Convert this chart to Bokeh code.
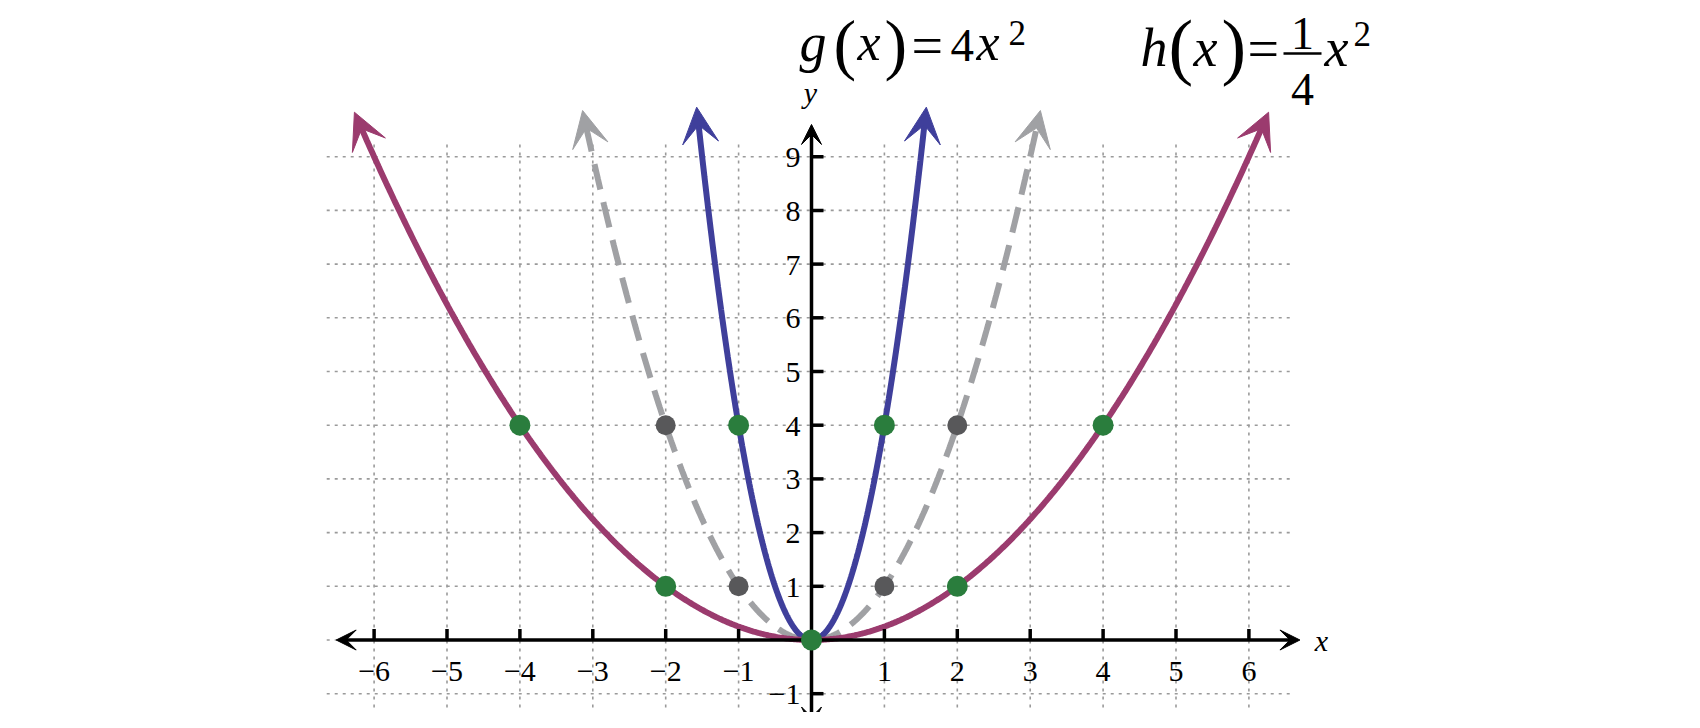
import numpy as np
from bokeh.plotting import figure
from bokeh.models import Range1d, Arrow, VeeHead
from bokeh.embed import file_html
from bokeh.resources import INLINE
from bokeh.core.properties import value

# ---------------- data ----------------
x_ticks = [-6, -5, -4, -3, -2, -1, 1, 2, 3, 4, 5, 6]
x_tick_labels = ["−6", "−5", "−4", "−3", "−2", "−1", "1", "2", "3", "4", "5", "6"]
y_ticks = [-1, 1, 2, 3, 4, 5, 6, 7, 8, 9]
y_tick_labels = ["−1", "1", "2", "3", "4", "5", "6", "7", "8", "9"]
grid_x = [-6, -5, -4, -3, -2, -1, 0, 1, 2, 3, 4, 5, 6]
grid_y = [-1, 0, 1, 2, 3, 4, 5, 6, 7, 8, 9]

green_x = [-4, -2, 0, 2, 4, -1, 1]
green_y = [4, 1, 0, 1, 4, 4, 4]
gray_x = [-2, -1, 1, 2]
gray_y = [4, 1, 1, 4]

# coefficient of each parabola a*x^2 and the x where its arrow tip sits
coef_f, tip_f = 1.0, 3.14      # f(x) = x^2 (dashed gray)
coef_g, tip_g = 4.0, 1.575     # g(x) = 4x^2 (blue)
coef_h, tip_h = 0.25, 6.27     # h(x) = 1/4 x^2 (purple)

# ---------------- layout ----------------
W, H = 1684, 712
X0, Y0 = 811.0, 639.5     # origin position inside the canvas (px from left / top)
UX, UY = 72.9, 53.7       # pixels per unit

PURPLE = "#9b3b6e"
BLUE = "#3f3f9b"
GRAYD = "#a0a1a4"
GREEN = "#2a7d3d"
DARKPT = "#58585a"
GRID = "#9a9a9a"
FONT = "Liberation Serif"

p = figure(width=W, height=H,
           x_range=Range1d(-X0 / UX, (W - X0) / UX),
           y_range=Range1d(-(H - Y0) / UY, Y0 / UY),
           x_axis_type=None, y_axis_type=None,
           output_backend="svg", toolbar_location=None, min_border=0)
p.outline_line_color = None
p.grid.visible = False
p.background_fill_color = "white"


def fx(px):
    return (px - X0) / UX


def fy(py):
    return (Y0 - py) / UY


# grid
p.segment(x0=grid_x, y0=[-2.0] * len(grid_x), x1=grid_x, y1=[9.3] * len(grid_x),
          line_color=GRID, line_width=1.6, line_dash="3 5")
p.segment(x0=[-6.65] * len(grid_y), y0=grid_y, x1=[6.6] * len(grid_y), y1=grid_y,
          line_color=GRID, line_width=1.6, line_dash="3 5")


def curve(coef, tip, color, dash=None):
    # stop the body a little before the tip so the head covers its end
    slope_px = np.hypot(UX, 2 * coef * tip * UY)
    end = tip - 16.0 / slope_px
    xs = np.linspace(-end, end, 600)
    kw = dict(line_color=color, line_width=6, line_cap="butt")
    if dash:
        kw["line_dash"] = dash
    p.line(xs, coef * xs ** 2, **kw)
    back = tip - 30.0 / slope_px
    for s in (-1, 1):
        p.add_layout(Arrow(end=VeeHead(size=36, fill_color=color, line_color=color, line_width=1),
                           x_start=s * back, y_start=coef * back ** 2,
                           x_end=s * tip, y_end=coef * tip ** 2,
                           line_alpha=0))


curve(coef_f, tip_f, GRAYD, dash="26 13")
curve(coef_g, tip_g, BLUE)
curve(coef_h, tip_h, PURPLE)

# axes
ax_x0, ax_x1 = -6.52, 6.7
ax_y0, ax_y1 = -1.62, 9.6
p.line([ax_x0 + 0.1, ax_x1 - 0.1], [0, 0], line_color="black", line_width=3.5)
p.line([0, 0], [ax_y0 + 0.1, ax_y1 - 0.1], line_color="black", line_width=3.5)
p.add_layout(Arrow(start=VeeHead(size=20, fill_color="black", line_color="black"),
                   end=VeeHead(size=20, fill_color="black", line_color="black"),
                   x_start=ax_x0, y_start=0, x_end=ax_x1, y_end=0, line_alpha=0))
p.add_layout(Arrow(start=VeeHead(size=20, fill_color="black", line_color="black"),
                   end=VeeHead(size=20, fill_color="black", line_color="black"),
                   x_start=0, y_start=ax_y0, x_end=0, y_end=ax_y1, line_alpha=0))

# tick marks
p.segment(x0=x_ticks, y0=[0] * len(x_ticks), x1=x_ticks, y1=[11.0 / UY] * len(x_ticks),
          line_color="black", line_width=3.5)
p.segment(x0=[0] * len(y_ticks), y0=y_ticks, x1=[12.0 / UX] * len(y_ticks), y1=y_ticks,
          line_color="black", line_width=3.5)

# tick labels
p.text(x=x_ticks, y=[0] * len(x_ticks), text=x_tick_labels, y_offset=31,
       text_align="center", text_baseline="middle",
       text_font=value(FONT), text_font_size="30px", text_color="black")
p.text(x=[0] * len(y_ticks), y=y_ticks, text=y_tick_labels, x_offset=-11, y_offset=1,
       text_align="right", text_baseline="middle",
       text_font=value(FONT), text_font_size="30px", text_color="black")

# points
p.scatter(gray_x, gray_y, size=20, fill_color=DARKPT, line_color=None)
p.scatter(green_x, green_y, size=21, fill_color=GREEN, line_color=None)


# text pieces positioned in page pixels (vertical anchor = middle of the em box)
def piece(px, py, t, size=52, italic=False, align="left"):
    p.text(x=[fx(px)], y=[fy(py)], text=[t], text_font=value(FONT),
           text_font_style="italic" if italic else "normal",
           text_font_size=f"{size}px", text_align=align,
           text_baseline="middle", text_color="black")


# axis names
piece(1321, 640, "x", size=30, italic=True, align="center")
piece(810, 92, "y", size=30, italic=True, align="center")

# g(x) = 4x^2
piece(799, 42, "g", size=54, italic=True)
piece(833, 43, "(", size=68)
piece(857, 42, "x", size=52, italic=True)
piece(884, 43, ")", size=68)
piece(911, 45, "=", size=56)
piece(950, 45, "4", size=47)
piece(976, 42, "x", size=52, italic=True)
piece(1008, 32, "2", size=35)

# h(x) = 1/4 x^2
piece(1140, 47, "h", size=54, italic=True)
piece(1168, 45, "(", size=74)
piece(1193, 47, "x", size=54, italic=True)
piece(1221, 45, ")", size=74)
piece(1247, 48, "=", size=56)
piece(1302, 33, "1", size=46, align="center")
piece(1302, 89, "4", size=46, align="center")
piece(1324, 47, "x", size=54, italic=True)
piece(1353, 33, "2", size=35)
p.segment(x0=[fx(1283)], y0=[fy(53)], x1=[fx(1321)], y1=[fy(53)], line_color="black", line_width=2.5)

open("out.html", "w").write(file_html(p, INLINE))
